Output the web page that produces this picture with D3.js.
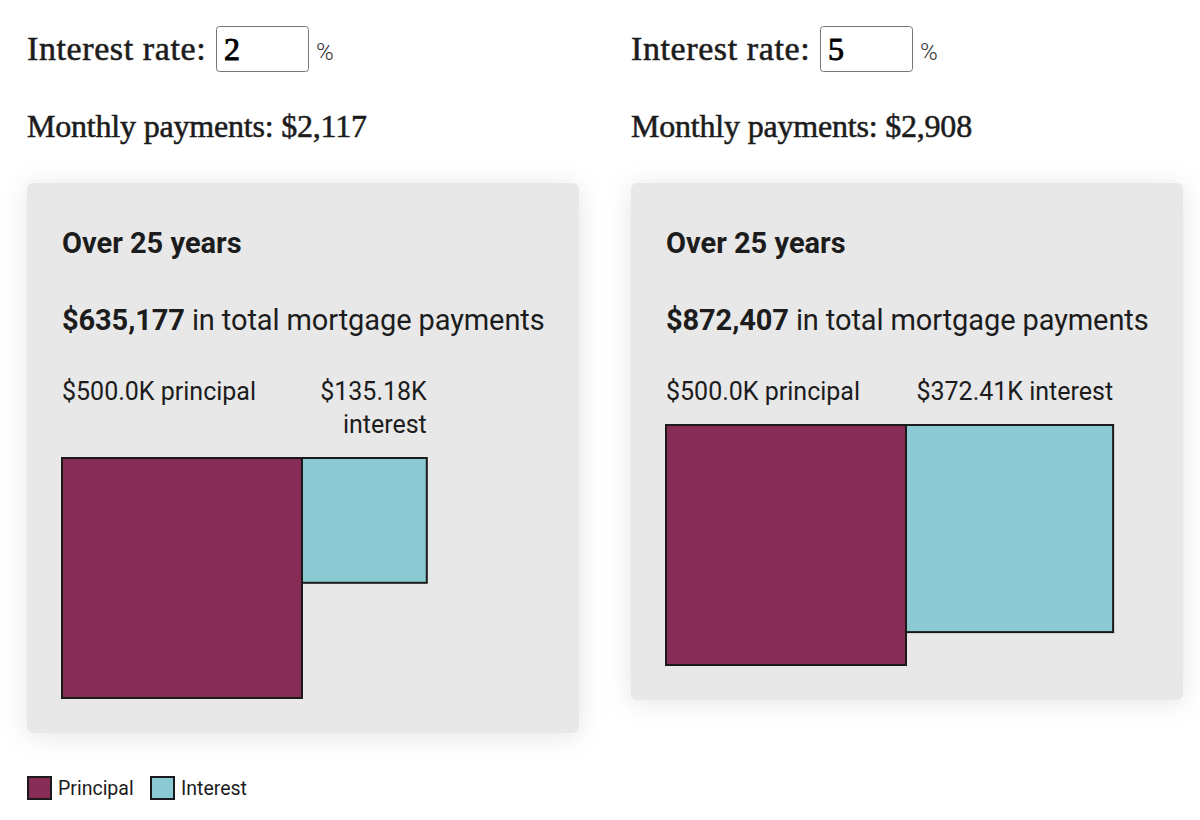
<!DOCTYPE html>
<html>
<head>
<meta charset="utf-8">
<script src="https://cdn.jsdelivr.net/npm/d3@7"></script>
<style>
  html, body { margin: 0; padding: 0; background: #ffffff; }
  svg { display: block; }
</style>
</head>
<body>
<svg id="chart" width="1200" height="820"></svg>
<script>
// ---- data ----
const interestRates = [2, 5];
const monthlyPayments = [2117, 2908];
const totalPayments = [635177, 872407];
const principalValues = [500000, 500000];
const interestValues = [135177, 372407];
const termYears = 25;
const legendLabels = ["Principal", "Interest"];

// ---- styles ----
const colPrincipal = "#862c55";
const colInterest = "#8bcad3";
const colCard = "#e8e8e8";
const colText = "#1c1c1c";
const serif = "'Liberation Serif', 'Times New Roman', serif";
const sans = "Roboto, 'Noto Sans', sans-serif";

const svg = d3.select("#chart");
const defs = svg.append("defs");
const f = defs.append("filter").attr("id", "shadow")
  .attr("x", "-20%").attr("y", "-20%").attr("width", "140%").attr("height", "140%");
f.append("feDropShadow").attr("dx", 0).attr("dy", 3).attr("stdDeviation", 13)
  .attr("flood-color", "#000").attr("flood-opacity", 0.1);

const panelX = d3.scaleOrdinal().domain([0, 1]).range([27, 631]);
const side = d3.scaleSqrt().domain([0, d3.max(principalValues)]).range([0, 240]);
const fmtMoney = d3.format("$,.0f");
const fmtK1 = v => "$" + d3.format(".1f")(v / 1000) + "K";
const fmtK2 = v => "$" + d3.format(".2f")(v / 1000) + "K";

function serifText(sel) {
  return sel.attr("font-family", serif).attr("fill", colText)
    .attr("stroke", colText).attr("stroke-width", 0.55);
}

interestRates.forEach((rate, i) => {
  const x0 = panelX(i);
  const g = svg.append("g");

  // Interest rate row
  serifText(g.append("text").attr("x", x0).attr("y", 60))
    .attr("font-size", 34).attr("letter-spacing", 0.6)
    .text("Interest rate:");
  g.append("rect").attr("x", x0 + 189.5).attr("y", 26.5).attr("width", 92).attr("height", 45)
    .attr("rx", 3).attr("fill", "#fff").attr("stroke", "#767676").attr("stroke-width", 1);
  serifText(g.append("text").attr("x", x0 + 197).attr("y", 60))
    .attr("font-size", 32).attr("fill", "#000").attr("stroke", "#000").attr("stroke-width", 0.9)
    .text(rate);
  g.append("text").attr("x", x0 + 289).attr("y", 60)
    .attr("font-family", sans).attr("font-size", 24).attr("font-weight", 300).attr("fill", "#333")
    .text("%");

  serifText(g.append("text").attr("x", x0).attr("y", 137))
    .attr("font-size", 32).attr("letter-spacing", -0.2)
    .text("Monthly payments: " + fmtMoney(monthlyPayments[i]));

  // card (drawn first, sized later)
  const card = g.append("rect").attr("x", x0).attr("y", 183).attr("width", 552)
    .attr("rx", 6).attr("fill", colCard).attr("filter", "url(#shadow)");

  const cx = x0 + 35;
  g.append("text").attr("x", cx).attr("y", 253)
    .attr("font-family", sans).attr("font-size", 29).attr("font-weight", 700)
    .attr("fill", colText).attr("letter-spacing", 0)
    .text("Over " + termYears + " years");

  const tot = g.append("text").attr("x", cx).attr("y", 330)
    .attr("font-family", sans).attr("font-size", 29).attr("fill", colText)
    .attr("letter-spacing", -0.1);
  tot.append("tspan").attr("font-weight", 700).text(fmtMoney(totalPayments[i]));
  tot.append("tspan").text(" in total mortgage payments");

  const sP = side(principalValues[i]);
  const sI = side(interestValues[i]);

  g.append("text").attr("x", cx).attr("y", 400)
    .attr("font-family", sans).attr("font-size", 25).attr("fill", colText)
    .text(fmtK1(principalValues[i]) + " principal");

  const labelRight = cx + sP + sI;
  const iLabel = g.append("text").attr("x", labelRight).attr("y", 400)
    .attr("text-anchor", "end")
    .attr("font-family", sans).attr("font-size", 25).attr("fill", colText)
    .text(fmtK2(interestValues[i]) + " interest");
  let lines = 1;
  if (iLabel.node().getComputedTextLength() > sI) {
    iLabel.text(null);
    iLabel.append("tspan").attr("x", labelRight).attr("dy", 0).text(fmtK2(interestValues[i]));
    iLabel.append("tspan").attr("x", labelRight).attr("dy", 33).text("interest");
    lines = 2;
  }
  const top = 400 + (lines - 1) * 33 + 25;

  g.append("rect").attr("x", cx).attr("y", top).attr("width", sP).attr("height", sP)
    .attr("fill", colPrincipal).attr("stroke", "#1a1a1a").attr("stroke-width", 2);
  g.append("rect").attr("x", cx + sP).attr("y", top).attr("width", sI).attr("height", sI)
    .attr("fill", colInterest).attr("stroke", "#1a1a1a").attr("stroke-width", 2);

  card.attr("height", top + sP + 35 - 183);
});

// legend
const legendColors = [colPrincipal, colInterest];
const legX = d3.scaleOrdinal().domain(legendLabels).range([28, 151]);
const leg = svg.append("g").selectAll("g").data(legendLabels).join("g")
  .attr("transform", d => `translate(${legX(d)},777)`);
leg.append("rect").attr("width", 23).attr("height", 22)
  .attr("fill", (d, i) => legendColors[i]).attr("stroke", "#1a1a1a").attr("stroke-width", 2);
leg.append("text").attr("x", 30).attr("y", 18)
  .attr("font-family", sans).attr("font-size", 19.5).attr("fill", colText)
  .text(d => d);
</script>
</body>
</html>
